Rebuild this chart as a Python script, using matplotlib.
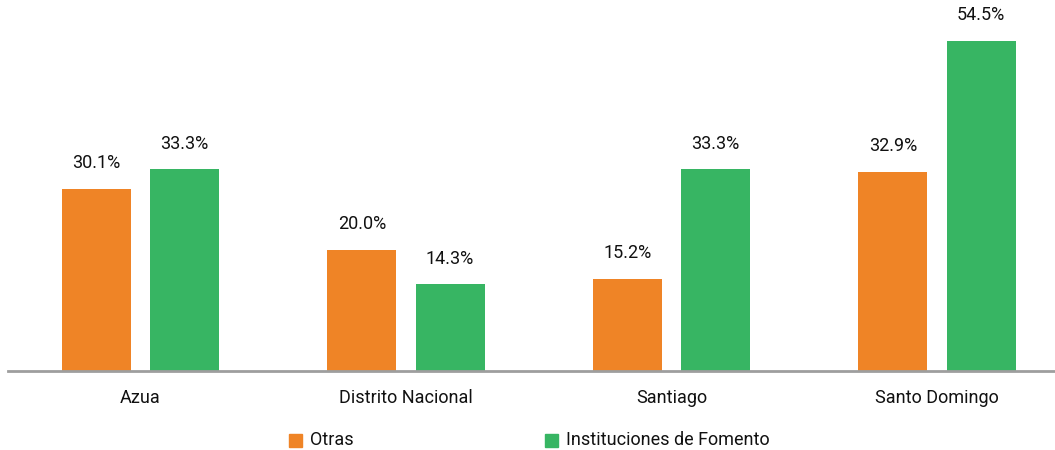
"""Bar chart: share by province, Otras vs Instituciones de Fomento."""

import matplotlib

matplotlib.use("Agg")
from matplotlib import pyplot as plt
from matplotlib.patches import Rectangle
import numpy as np

categories = ["Azua", "Distrito Nacional", "Santiago", "Santo Domingo"]
otras = [30.1, 20.0, 15.2, 32.9]
fomento = [33.3, 14.3, 33.3, 54.5]
series_names = ["Otras", "Instituciones de Fomento"]

ORANGE = "#EF8426"
GREEN = "#37B563"
FONT = ["Roboto", "DejaVu Sans"]
SIZE = 13

plt.rcParams["font.family"] = FONT

fig = plt.figure(figsize=(10.55, 4.5), dpi=100)
W, H = 1055, 450
ax = fig.add_axes([7.75 / W, 79 / H, 1062 / W, 371 / H])

x = np.arange(len(categories))
width = 0.26
offset = 0.166
bars_o = ax.bar(x - offset, otras, width, color=ORANGE)
bars_g = ax.bar(x + offset, fomento, width, color=GREEN)

for bars, values in ((bars_o, otras), (bars_g, fomento)):
    for bar, val in zip(bars, values):
        ax.annotate(f"{val:.1f}%", (bar.get_x() + bar.get_width() / 2, val),
                    xytext=(0, 12), textcoords="offset points",
                    ha="center", va="bottom", fontsize=SIZE, color="#111111")

ax.set_xlim(-0.5, len(categories) - 0.5)
ax.set_ylim(0, 61.27)
ax.set_xticks(x)
ax.set_xticklabels(categories, fontsize=SIZE, color="#111111")
ax.tick_params(axis="x", length=0, pad=13)
ax.set_yticks([])
for side in ("top", "right", "left"):
    ax.spines[side].set_visible(False)
ax.spines["bottom"].set_color("#9E9E9E")
ax.spines["bottom"].set_linewidth(2)

# legend
for xs, color, name in ((289, ORANGE, series_names[0]), (545, GREEN, series_names[1])):
    fig.patches.append(Rectangle((xs / W, (H - 447) / H), 13 / W, 13 / H,
                                 transform=fig.transFigure, color=color))
    fig.text((xs + 21) / W, (H - 440) / H, name, fontsize=SIZE,
             va="center", ha="left", color="#111111")

fig.savefig("out.png", dpi=100)
